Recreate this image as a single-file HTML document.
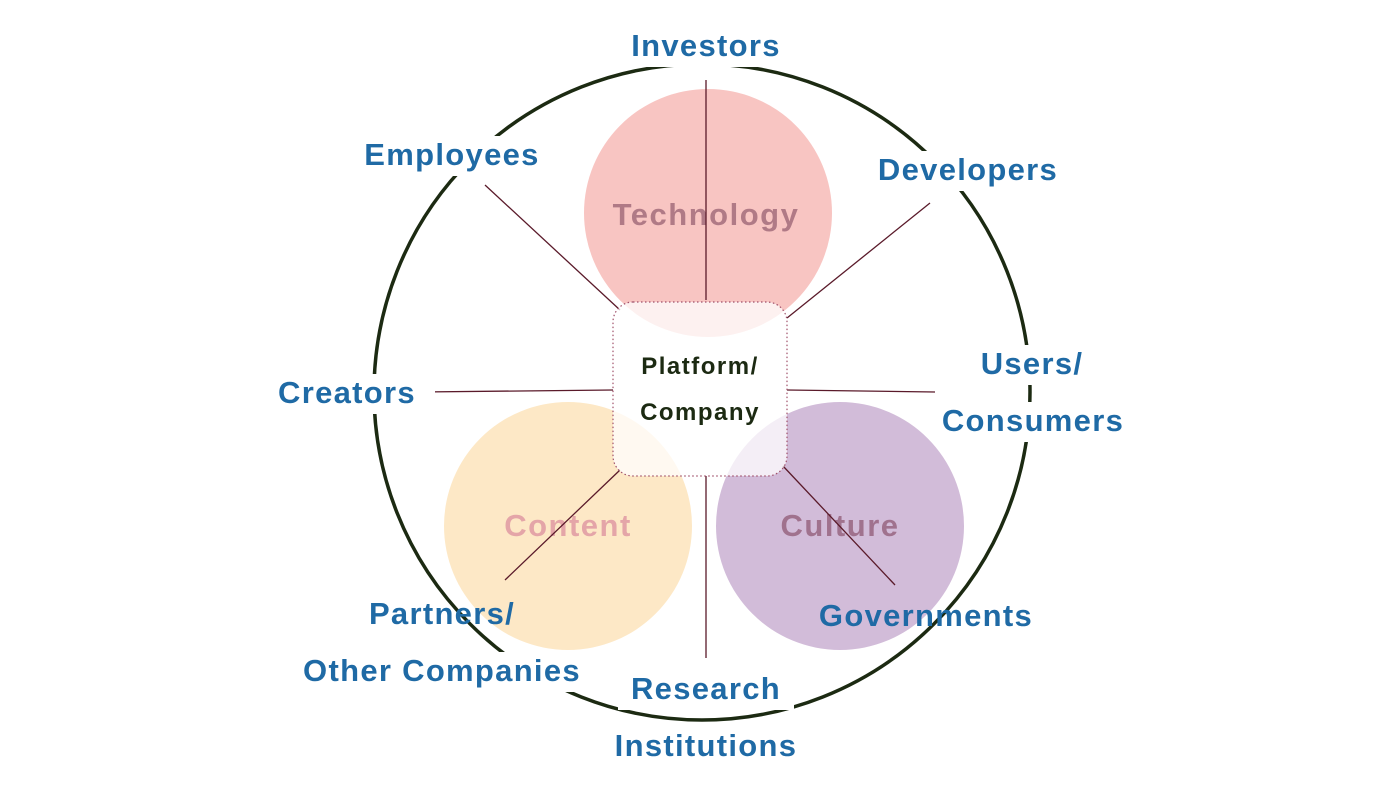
<!DOCTYPE html>
<html><head><meta charset="utf-8">
<style>
html,body{margin:0;padding:0;background:#fff;}
svg{display:block;}
.lbl{font-family:"Liberation Sans",sans-serif;font-weight:bold;font-size:31px;letter-spacing:1.3px;fill:#1f6aa5;}
.bub{font-family:"Liberation Sans",sans-serif;font-weight:bold;font-size:31px;letter-spacing:1.5px;}
</style></head>
<body>
<svg id="diagram" width="1400" height="788" viewBox="0 0 1400 788">
  <circle cx="702" cy="392" r="328" fill="none" stroke="#1c2a12" stroke-width="3.5"/>
  <circle cx="708" cy="213" r="124" fill="#f8c5c2"/>
  <circle cx="568" cy="526" r="124" fill="#fde8c6"/>
  <circle cx="840" cy="526" r="124" fill="#d2bcd9"/>
  <text class="bub" x="706" y="225" text-anchor="middle" fill="#b07a86">Technology</text>
  <text class="bub" x="568" y="536" text-anchor="middle" fill="#e4a5a8">Content</text>
  <text class="bub" x="840" y="536" text-anchor="middle" fill="#a0728e">Culture</text>
  <g stroke="#5a1a2a" stroke-width="1.3">
    <line x1="706" y1="80" x2="706" y2="300"/>
    <line x1="930" y1="203" x2="787" y2="318"/>
    <line x1="485" y1="185" x2="620" y2="310"/>
    <line x1="420" y1="392" x2="613" y2="390"/>
    <line x1="787" y1="390" x2="935" y2="392"/>
    <line x1="505" y1="580" x2="620" y2="470"/>
    <line x1="706" y1="476" x2="706" y2="658"/>
    <line x1="783" y1="466" x2="895" y2="585"/>
  </g>
  <rect x="613" y="302" width="174" height="174" rx="20" fill="#fff" fill-opacity="0.75" stroke="#a0506a" stroke-width="1.2" stroke-dasharray="1.5 2.5"/>
  <text x="700" y="374" text-anchor="middle" font-family="Liberation Sans, sans-serif" font-weight="bold" font-size="24" letter-spacing="1.5" fill="#1c2a12">Platform/</text>
  <text x="700" y="420" text-anchor="middle" font-family="Liberation Sans, sans-serif" font-weight="bold" font-size="24" letter-spacing="1.5" fill="#1c2a12">Company</text>
  <g id="labels"></g>
</svg>
<script>
const names = ["Investors","Employees","Developers","Creators","Users/","Consumers","Partners/","Other Companies","Research","Institutions","Governments"];
const xs = [706,452,968,347,1032,1033,442,442,706,706,926];
const ys = [56,165,180,403,374,431,624,681,699,756,626];
const keys = ["investors","employees","developers","creators","users","consumers","partners","other-companies","research","institutions","governments"];
const g = document.getElementById('labels');
const NS = "http://www.w3.org/2000/svg";
names.forEach((n,i)=>{
  const w = n.length*20+16;
  const r = document.createElementNS(NS,'rect');
  r.setAttribute('x', xs[i]-w/2); r.setAttribute('y', ys[i]-29);
  r.setAttribute('width', w); r.setAttribute('height', 40); r.setAttribute('fill', (i===10||i===6)?'none':'#fff');
  
  
  g.appendChild(r);
  const t = document.createElementNS(NS,'text');
  t.setAttribute('x', xs[i]); t.setAttribute('y', ys[i]);
  t.setAttribute('text-anchor','middle'); t.setAttribute('class','lbl');
  t.textContent = n;
  
  
  g.appendChild(t);
});
</script>
</body></html>
